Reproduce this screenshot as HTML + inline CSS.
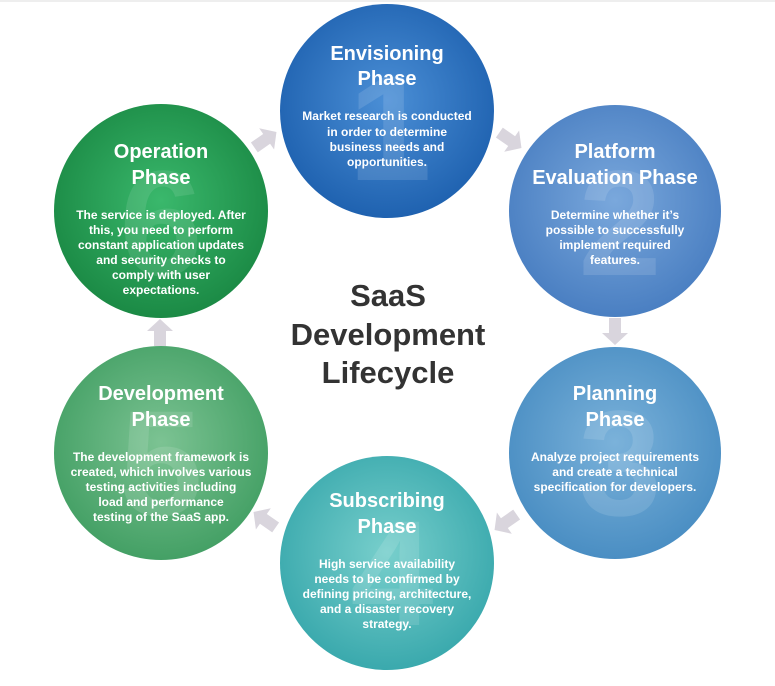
<!DOCTYPE html>
<html><head><meta charset="utf-8"><style>
html,body{margin:0;padding:0;background:#fff;}
svg{display:block;font-family:"Liberation Sans",Arial,sans-serif;font-weight:bold;}
</style></head><body>
<svg width="775" height="686" viewBox="0 0 775 686" xmlns="http://www.w3.org/2000/svg">
<defs>
<radialGradient id="g1" cx="50%" cy="45%" r="55%"><stop offset="0" stop-color="#4b8fd6"/><stop offset="1" stop-color="#1f62b0"/></radialGradient>
<radialGradient id="g2" cx="50%" cy="45%" r="55%"><stop offset="0" stop-color="#7aa8dc"/><stop offset="1" stop-color="#4a7fc2"/></radialGradient>
<radialGradient id="g3" cx="50%" cy="45%" r="55%"><stop offset="0" stop-color="#7bb2da"/><stop offset="1" stop-color="#4a8ec3"/></radialGradient>
<radialGradient id="g4" cx="50%" cy="45%" r="55%"><stop offset="0" stop-color="#78cfcc"/><stop offset="1" stop-color="#3aa9ad"/></radialGradient>
<radialGradient id="g5" cx="50%" cy="45%" r="55%"><stop offset="0" stop-color="#7cc393"/><stop offset="1" stop-color="#44a065"/></radialGradient>
<radialGradient id="g6" cx="50%" cy="45%" r="55%"><stop offset="0" stop-color="#3ab86c"/><stop offset="1" stop-color="#1b8a45"/></radialGradient>
<polygon id="ar" points="-13,-6 2,-6 2,-13 14,0 2,13 2,6 -13,6" fill="#d9d5dd"/>
</defs>
<rect x="0" y="0" width="775" height="2" fill="#eee"/>
<!-- arrows -->
<use href="#ar" transform="translate(510,140) rotate(35)"/>
<use href="#ar" transform="translate(615,331) rotate(90)"/>
<use href="#ar" transform="translate(506,522) rotate(145)"/>
<use href="#ar" transform="translate(265,520) rotate(-145)"/>
<use href="#ar" transform="translate(160,333) rotate(-90)"/>
<use href="#ar" transform="translate(265,140) rotate(-35)"/>

<g text-anchor="middle" fill="#fff">
<circle cx="387" cy="111" r="107" fill="url(#g1)"/>
<text x="390" y="180" font-size="150" fill="#fff" fill-opacity="0.12">1</text>
<text x="387" y="60" font-size="20">Envisioning</text>
<text x="387" y="85" font-size="20">Phase</text>
<text font-size="12"><tspan x="387" y="120">Market research is conducted</tspan><tspan x="387" y="136">in order to determine</tspan><tspan x="387" y="151">business needs and</tspan><tspan x="387" y="166">opportunities.</tspan></text>

<circle cx="615" cy="211" r="106" fill="url(#g2)"/>
<text x="620" y="275" font-size="150" fill="#fff" fill-opacity="0.12">2</text>
<text x="615" y="158" font-size="20">Platform</text>
<text x="615" y="184" font-size="20">Evaluation Phase</text>
<text font-size="12"><tspan x="615" y="219">Determine whether it’s</tspan><tspan x="615" y="234">possible to successfully</tspan><tspan x="615" y="249">implement required</tspan><tspan x="615" y="264">features.</tspan></text>

<circle cx="615" cy="453" r="106" fill="url(#g3)"/>
<text x="620" y="515" font-size="150" fill="#fff" fill-opacity="0.12">3</text>
<text x="615" y="400" font-size="20">Planning</text>
<text x="615" y="426" font-size="20">Phase</text>
<text font-size="12"><tspan x="615" y="461">Analyze project requirements</tspan><tspan x="615" y="476">and create a technical</tspan><tspan x="615" y="491">specification for developers.</tspan></text>

<circle cx="387" cy="563" r="107" fill="url(#g4)"/>
<text x="392" y="625" font-size="150" fill="#fff" fill-opacity="0.12">4</text>
<text x="387" y="507" font-size="20">Subscribing</text>
<text x="387" y="533" font-size="20">Phase</text>
<text font-size="12"><tspan x="387" y="568">High service availability</tspan><tspan x="387" y="583">needs to be confirmed by</tspan><tspan x="387" y="598">defining pricing, architecture,</tspan><tspan x="387" y="613">and a disaster recovery</tspan><tspan x="387" y="628">strategy.</tspan></text>

<circle cx="161" cy="453" r="107" fill="url(#g5)"/>
<text x="161" y="515" font-size="150" fill="#fff" fill-opacity="0.12">5</text>
<text x="161" y="400" font-size="20">Development</text>
<text x="161" y="426" font-size="20">Phase</text>
<text font-size="12"><tspan x="161" y="461">The development framework is</tspan><tspan x="161" y="476">created, which involves various</tspan><tspan x="161" y="491">testing activities including</tspan><tspan x="161" y="506">load and performance</tspan><tspan x="161" y="521">testing of the SaaS app.</tspan></text>

<circle cx="161" cy="211" r="107" fill="url(#g6)"/>
<text x="161" y="275" font-size="150" fill="#fff" fill-opacity="0.1">6</text>
<text x="161" y="158" font-size="20">Operation</text>
<text x="161" y="184" font-size="20">Phase</text>
<text font-size="12"><tspan x="161" y="219">The service is deployed. After</tspan><tspan x="161" y="234">this, you need to perform</tspan><tspan x="161" y="249">constant application updates</tspan><tspan x="161" y="264">and security checks to</tspan><tspan x="161" y="279">comply with user</tspan><tspan x="161" y="294">expectations.</tspan></text>
</g>

<g text-anchor="middle" fill="#333" font-size="31">
<text x="388" y="306">SaaS</text>
<text x="388" y="345">Development</text>
<text x="388" y="383">Lifecycle</text>
</g>
</svg>
</body></html>
